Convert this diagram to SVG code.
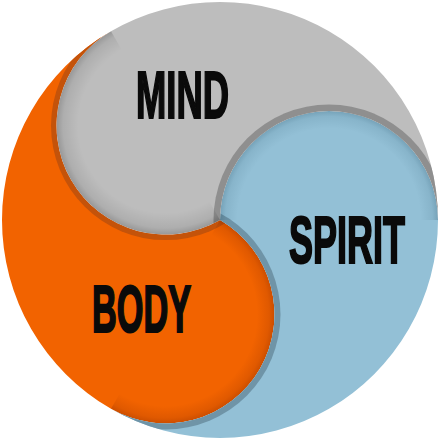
<svg xmlns="http://www.w3.org/2000/svg" width="440" height="440" viewBox="0 0 440 440">
  <defs>
    <style>
      .lbl { font-family: "Liberation Sans Narrow", "Liberation Sans", sans-serif; font-weight: bold; font-size: 67px; fill: #0a0a0a; stroke: #0a0a0a; stroke-width: 2.2px; stroke-linejoin: miter; }
    </style>
    <clipPath id="clipGray"><path d="M220,220 A109,109 0 1 1 111,31.206 A218,218 0 0 1 438,220 A109,109 0 0 0 220,220 Z"/></clipPath>
    <clipPath id="clipOrange"><path d="M220,220 A109,109 0 1 1 111,408.794 A218,218 0 0 1 111,31.206 A109,109 0 1 0 220,220 Z"/></clipPath>
    <clipPath id="clipBlue"><path d="M220,220 A109,109 0 1 1 438,220 A218,218 0 0 1 111,408.794 A109,109 0 1 0 220,220 Z"/></clipPath>
    <clipPath id="halfGray"><path d="M220,220 A109,109 0 0 1 111,31.206 Z"/></clipPath>
    <clipPath id="halfBlue"><path d="M220,220 A109,109 0 0 1 438,220 Z"/></clipPath>
    <clipPath id="halfOrange"><path d="M220,220 A109,109 0 0 1 111,408.794 Z"/></clipPath>
    <radialGradient id="ringGray">
      <stop offset="0.8" stop-color="#000" stop-opacity="0"/>
      <stop offset="0.94" stop-color="#000" stop-opacity="0.08"/>
      <stop offset="1" stop-color="#000" stop-opacity="0.2"/>
    </radialGradient>
    <radialGradient id="ringBlue">
      <stop offset="0.84" stop-color="#1f4a60" stop-opacity="0"/>
      <stop offset="0.95" stop-color="#1f4a60" stop-opacity="0.1"/>
      <stop offset="1" stop-color="#1f4a60" stop-opacity="0.25"/>
    </radialGradient>
    <radialGradient id="ringOrange">
      <stop offset="0.84" stop-color="#7a2000" stop-opacity="0"/>
      <stop offset="0.95" stop-color="#7a2000" stop-opacity="0.15"/>
      <stop offset="1" stop-color="#7a2000" stop-opacity="0.32"/>
    </radialGradient>
  </defs>

  <g id="body">
    <path d="M220,220 A109,109 0 1 1 111,408.794 A218,218 0 0 1 111,31.206 A109,109 0 1 0 220,220 Z" fill="#f26300"/>
    <circle cx="165.5" cy="125.603" r="114.5" fill="#c4530a" clip-path="url(#clipOrange)"/>
    <circle cx="165.5" cy="314.397" r="109" fill="url(#ringOrange)" clip-path="url(#halfOrange)"/>
    <text class="lbl" x="92" y="332" textLength="99" lengthAdjust="spacingAndGlyphs">BODY</text>
  </g>

  <g id="spirit">
    <path d="M220,220 A109,109 0 1 1 438,220 A218,218 0 0 1 111,408.794 A109,109 0 1 0 220,220 Z" fill="#93c0d6"/>
    <circle cx="165.5" cy="314.397" r="115" fill="#6f94a7" clip-path="url(#clipBlue)"/>
    <circle cx="329" cy="220" r="109" fill="url(#ringBlue)" clip-path="url(#halfBlue)"/>
    <text class="lbl" x="289" y="263" textLength="116" lengthAdjust="spacingAndGlyphs">SPIRIT</text>
  </g>

  <g id="mind">
    <path d="M220,220 A109,109 0 1 1 111,31.206 A218,218 0 0 1 438,220 A109,109 0 0 0 220,220 Z" fill="#bdbdbd"/>
    <circle cx="329" cy="220" r="115.5" fill="#8f8f8f" clip-path="url(#clipGray)"/>
    <circle cx="165.5" cy="125.603" r="109" fill="url(#ringGray)" clip-path="url(#halfGray)"/>
    <text class="lbl" x="136" y="118" textLength="93" lengthAdjust="spacingAndGlyphs">MIND</text>
  </g>

  <g id="connectors"/>
</svg>
